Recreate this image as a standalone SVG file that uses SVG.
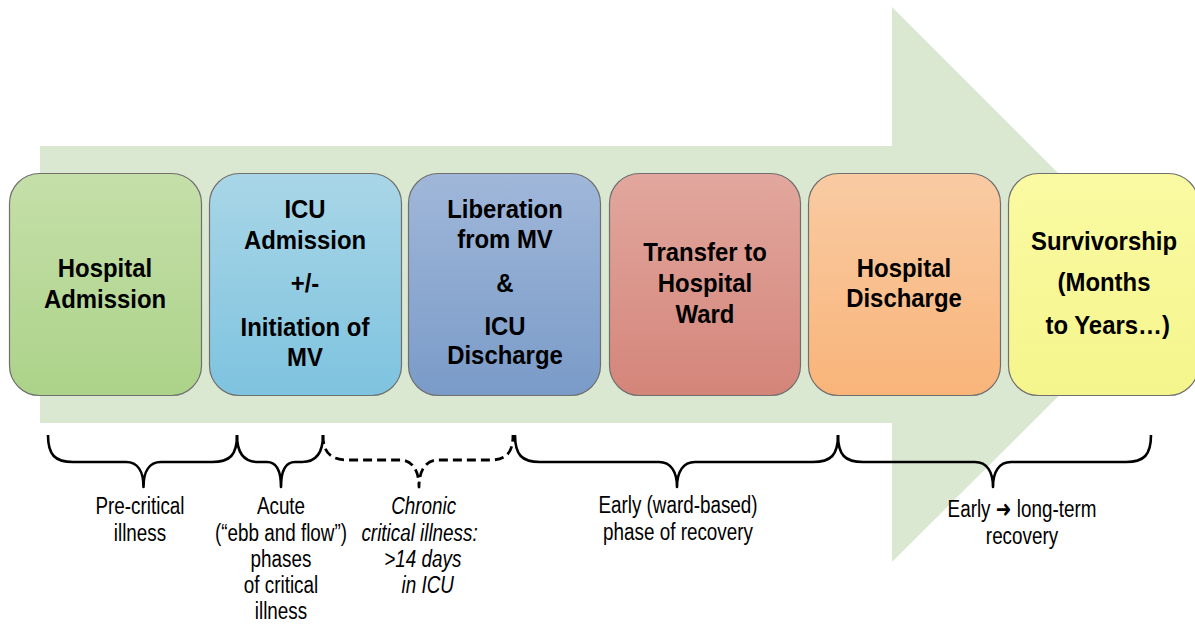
<svg xmlns="http://www.w3.org/2000/svg" width="1195" height="624" viewBox="0 0 1195 624">
<style>
.box{stroke:#6f6f6f;stroke-width:1.2}
.bt{font-family:"Liberation Sans","DejaVu Sans",sans-serif;font-weight:bold;font-size:26px;fill:#000;text-anchor:middle}
.lt{font-family:"Liberation Sans","DejaVu Sans",sans-serif;font-size:23px;fill:#000;text-anchor:middle}
.it{font-style:italic}
.brace{fill:none;stroke:#000;stroke-width:2.6;stroke-linejoin:round}
.dash{stroke-dasharray:9 5;stroke-width:2.8}
</style>
<defs>
<linearGradient id="g1" x1="0" y1="0" x2="0" y2="1"><stop offset="0" stop-color="#c5dfa9"/><stop offset="1" stop-color="#acd389"/></linearGradient>
<linearGradient id="g2" x1="0" y1="0" x2="0" y2="1"><stop offset="0" stop-color="#a9d6e7"/><stop offset="1" stop-color="#7ec3df"/></linearGradient>
<linearGradient id="g3" x1="0" y1="0" x2="0" y2="1"><stop offset="0" stop-color="#a0b7d9"/><stop offset="1" stop-color="#7a9bc8"/></linearGradient>
<linearGradient id="g4" x1="0" y1="0" x2="0" y2="1"><stop offset="0" stop-color="#e2a79e"/><stop offset="1" stop-color="#d4857a"/></linearGradient>
<linearGradient id="g5" x1="0" y1="0" x2="0" y2="1"><stop offset="0" stop-color="#f9cba3"/><stop offset="1" stop-color="#f9b479"/></linearGradient>
<linearGradient id="g6" x1="0" y1="0" x2="0" y2="1"><stop offset="0" stop-color="#fafaa3"/><stop offset="1" stop-color="#f5f58c"/></linearGradient>
</defs>
<rect width="1195" height="624" fill="#fff"/>
<path id="timeline-arrow" d="M40,146 H892 V7 L1170,285 L892,562 V423 H40 Z" fill="#dbe8d1"/>

<g id="node-hospital-admission">
<rect class="box" x="9.5" y="173.5" width="192" height="222" rx="30" fill="url(#g1)"/>
<g transform="translate(105 0) scale(0.92 1)"><text class="bt"><tspan x="0" y="277">Hospital</tspan><tspan x="0" y="308">Admission</tspan></text></g>
</g>
<g id="node-icu-admission">
<rect class="box" x="209.5" y="173.5" width="192" height="222" rx="30" fill="url(#g2)"/>
<g transform="translate(305 0) scale(0.92 1)"><text class="bt"><tspan x="0" y="218">ICU</tspan><tspan x="0" y="249">Admission</tspan><tspan x="0" y="292">+/-</tspan><tspan x="0" y="336">Initiation of</tspan><tspan x="0" y="366">MV</tspan></text></g>
</g>
<g id="node-liberation">
<rect class="box" x="408.5" y="173.5" width="192" height="222" rx="30" fill="url(#g3)"/>
<g transform="translate(505 0) scale(0.92 1)"><text class="bt"><tspan x="0" y="218">Liberation</tspan><tspan x="0" y="248">from MV</tspan><tspan x="0" y="292">&amp;</tspan><tspan x="0" y="335">ICU</tspan><tspan x="0" y="364">Discharge</tspan></text></g>
</g>
<g id="node-transfer-ward">
<rect class="box" x="609.5" y="173.5" width="191" height="222" rx="30" fill="url(#g4)"/>
<g transform="translate(705 0) scale(0.92 1)"><text class="bt"><tspan x="0" y="261">Transfer to</tspan><tspan x="0" y="292">Hospital</tspan><tspan x="0" y="323">Ward</tspan></text></g>
</g>
<g id="node-hospital-discharge">
<rect class="box" x="808.5" y="173.5" width="192" height="222" rx="30" fill="url(#g5)"/>
<g transform="translate(904 0) scale(0.92 1)"><text class="bt"><tspan x="0" y="277">Hospital</tspan><tspan x="0" y="307">Discharge</tspan></text></g>
</g>
<g id="node-survivorship">
<rect class="box" x="1008.5" y="173.5" width="190" height="222" rx="30" fill="url(#g6)"/>
<g transform="translate(1104 0) scale(0.92 1)"><text class="bt"><tspan x="0" y="250">Survivorship</tspan><tspan x="0" y="291">(Months</tspan><tspan x="4" y="334">to Years…)</tspan></text></g>
</g>

<g id="connectors">
<path class="brace" d="M48,435 C48,455 55,462 73,462 L126,462 C138,462 143.5,472 143.5,487 C143.5,472 149,462 161,462 L212,462 C230,462 237,455 237,435"/>
<path class="brace" d="M237,435 C237,452 243,462 258,462 L267,462 C276,462 281,470 281,487 C281,470 286,462 295,462 L302,462 C317,462 323,452 323,435"/>
<path class="brace dash" d="M323,435 C323,452 330,460 348,460 L400,460 C412,460 419,470 419,487 C419,470 426,460 438,460 L490,460 C507,460 513,452 513,435"/>
<path class="brace" d="M515,435 C515,455 522,462 540,462 L659,462 C671,462 677,472 677,487 C677,472 683,462 695,462 L813,462 C831,462 838,455 838,435"/>
<path class="brace" d="M838,435 C838,455 845,462 863,462 L975,462 C987,462 993,472 993,487 C993,472 999,462 1011,462 L1126,462 C1144,462 1151,455 1151,435"/>
</g>

<g id="label-pre-critical" transform="translate(140 0) scale(0.82 1)"><text class="lt"><tspan x="0" y="514">Pre-critical</tspan><tspan x="0" y="541">illness</tspan></text></g>
<g id="label-acute" transform="translate(281 0) scale(0.82 1)"><text class="lt"><tspan x="0" y="514">Acute</tspan><tspan x="0" y="541">(“ebb and flow”)</tspan><tspan x="0" y="567">phases</tspan><tspan x="0" y="593">of critical</tspan><tspan x="0" y="619">illness</tspan></text></g>
<g id="label-chronic" transform="translate(422 0) scale(0.82 1)"><text class="lt it"><tspan x="2" y="514">Chronic</tspan><tspan x="-3" y="541">critical illness:</tspan><tspan x="1" y="567">&gt;14 days</tspan><tspan x="7" y="593">in ICU</tspan></text></g>
<g id="label-early-ward" transform="translate(678 0) scale(0.82 1)"><text class="lt"><tspan x="0" y="513">Early (ward-based)</tspan><tspan x="0" y="540">phase of recovery</tspan></text></g>
<g id="label-long-term" transform="translate(1022 0) scale(0.82 1)"><text class="lt"><tspan x="0" y="517">Early ➜ long-term</tspan><tspan x="0" y="544">recovery</tspan></text></g>
</svg>
